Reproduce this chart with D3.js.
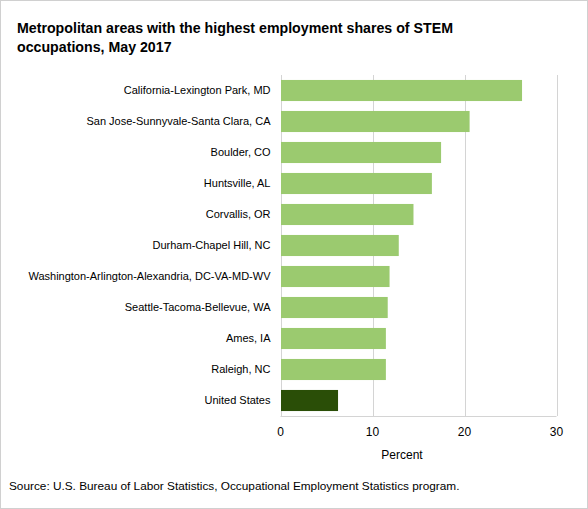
<!DOCTYPE html>
<html>
<head>
<meta charset="utf-8">
<script src="https://cdn.jsdelivr.net/npm/d3@7"></script>
<style>
  html, body { margin: 0; padding: 0; background: #fff; }
  svg { display: block; font-family: Arial, "Liberation Sans", sans-serif; }
</style>
</head>
<body>
<svg id="chart" width="588" height="509"></svg>
<script>
// areas, top to bottom
const areas = [
  "California-Lexington Park, MD",
  "San Jose-Sunnyvale-Santa Clara, CA",
  "Boulder, CO",
  "Huntsville, AL",
  "Corvallis, OR",
  "Durham-Chapel Hill, NC",
  "Washington-Arlington-Alexandria, DC-VA-MD-WV",
  "Seattle-Tacoma-Bellevue, WA",
  "Ames, IA",
  "Raleigh, NC",
  "United States"
];
// STEM share of employment, percent
const shares = [26.2, 20.5, 17.4, 16.4, 14.4, 12.8, 11.8, 11.6, 11.4, 11.4, 6.2];
const xTicks = [0, 10, 20, 30];

const width = 588, height = 509;
const margin = {top: 75, right: 31.5, bottom: 93, left: 280.5};

const svg = d3.select("#chart");

// outer frame
svg.append("rect")
    .attr("x", 0.5).attr("y", 0.5)
    .attr("width", width - 1).attr("height", height - 1)
    .attr("fill", "#fff")
    .attr("stroke", "#d0d0d0");

const rows = areas.map((name, i) => ({name, value: shares[i], us: name === "United States"}));

const x = d3.scaleLinear()
    .domain([0, 30])
    .range([margin.left, width - margin.right]);

const y = d3.scaleBand()
    .domain(areas)
    .range([margin.top, height - margin.bottom])
    .paddingInner(0.32)
    .paddingOuter(0.16);

// grid lines
svg.append("g")
    .selectAll("line")
    .data(xTicks)
    .join("line")
    .attr("x1", d => Math.round(x(d)) + 0.5)
    .attr("x2", d => Math.round(x(d)) + 0.5)
    .attr("y1", margin.top)
    .attr("y2", height - margin.bottom)
    .attr("stroke", "#d4d4d4")
    .attr("stroke-width", 1);

// bottom axis line
svg.append("line")
    .attr("x1", x(0)).attr("x2", x(30))
    .attr("y1", Math.round(height - margin.bottom) + 0.5)
    .attr("y2", Math.round(height - margin.bottom) + 0.5)
    .attr("stroke", "#d4d4d4");

// bars
svg.append("g")
    .selectAll("rect")
    .data(rows)
    .join("rect")
    .attr("x", x(0) + 0.5)
    .attr("y", d => y(d.name))
    .attr("width", d => x(d.value) - x(0))
    .attr("height", y.bandwidth())
    .attr("fill", d => d.us ? "#2a4e07" : "#9bca6f");

// category labels
svg.append("g")
    .selectAll("text")
    .data(rows)
    .join("text")
    .attr("x", margin.left - 10)
    .attr("y", d => y(d.name) + y.bandwidth() / 2)
    .attr("dy", "0.35em")
    .attr("text-anchor", "end")
    .attr("font-size", 11)
    .attr("fill", "#000")
    .text(d => d.name);

// x tick labels
svg.append("g")
    .selectAll("text")
    .data(xTicks)
    .join("text")
    .attr("x", d => x(d))
    .attr("y", height - margin.bottom + 16)
    .attr("dy", "0.35em")
    .attr("text-anchor", "middle")
    .attr("font-size", 12)
    .text(d => d);

svg.append("text")
    .attr("x", 402)
    .attr("y", 459)
    .attr("text-anchor", "middle")
    .attr("font-size", 12)
    .text("Percent");

// title
const title = svg.append("text")
    .attr("x", 17)
    .attr("y", 33)
    .attr("font-size", 14.2)
    .attr("font-weight", "bold");
title.append("tspan").attr("x", 17).text("Metropolitan areas with the highest employment shares of STEM");
title.append("tspan").attr("x", 17).attr("dy", 18.5).text("occupations, May 2017");

// source
svg.append("text")
    .attr("x", 9)
    .attr("y", 490)
    .attr("font-size", 11.8)
    .text("Source: U.S. Bureau of Labor Statistics, Occupational Employment Statistics program.");
</script>
</body>
</html>
